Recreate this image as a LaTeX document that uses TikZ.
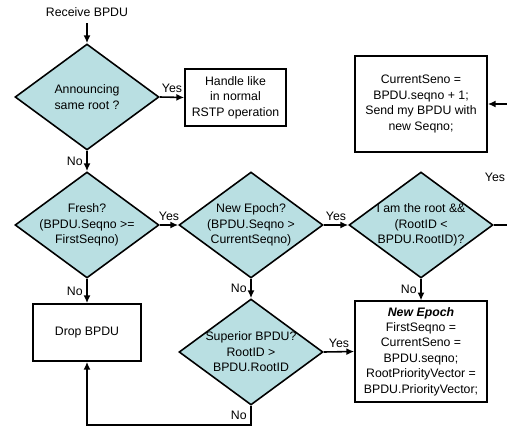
\documentclass[tikz,border=0pt]{standalone}
\usepackage{fontspec}
\setmainfont{Liberation Sans}
\usetikzlibrary{shapes.geometric,arrows.meta}
\definecolor{decfill}{RGB}{185,223,226}
\newcommand{\bpdutext}{\fontsize{7}{8.8}\selectfont}

\begin{document}
\begin{tikzpicture}[x=0.02cm, y=-0.02cm, font=\bpdutext,
    line width=0.9pt,
    decision/.style={diamond, draw, fill=decfill, inner sep=0pt,
        minimum width=2.88cm, minimum height=2.12cm},
    dtext/.style={align=center, font=\bpdutext},
    action/.style={rectangle, draw, fill=white, align=center},
    arr/.style={-{Latex[length=4.5pt,width=4pt]}},
    lbl/.style={inner sep=2pt}]
\useasboundingbox (0,0) rectangle (507,426);
\clip (0,0) rectangle (507,426);
% nodes

\node (recv) at (87,12) {Receive BPDU};

\node[decision, label={[dtext]center:Announcing\\same root ?}] (same) at (87,97) {};
\node[decision, label={[dtext]center:Fresh?\\(BPDU.Seqno >=\\FirstSeqno)}] (fresh) at (87,225) {};
\node[decision, label={[dtext]center:New Epoch?\\(BPDU.Seqno >\\CurrentSeqno)}] (epoch) at (251,225) {};
\node[decision, label={[dtext]center:I am the root \&\&\\(RootID <\\BPDU.RootID)?}] (iroot) at (421,225) {};
\node[decision, label={[dtext]center:Superior BPDU?\\RootID >\\BPDU.RootID}] (super) at (251,352) {};

\node[action, minimum width=2.02cm, minimum height=1.14cm] (handle) at (235.5,97.5) {Handle like\\in normal\\RSTP operation};
\node[action, minimum width=2.64cm, minimum height=1.92cm] (cur) at (421,104) {CurrentSeno =\\BPDU.seqno + 1;\\Send my BPDU with\\new Seqno;};
\node[action, minimum width=2.16cm, minimum height=1.14cm] (drop) at (87,332.5) {Drop BPDU};
\node[action, minimum width=2.64cm, minimum height=1.90cm] (newep) at (421,351.5) {\textbf{\textit{New Epoch}}\\FirstSeqno =\\CurrentSeno =\\BPDU.seqno;\\RootPriorityVector =\\BPDU.PriorityVector;};

\coordinate (rturn) at (515,225);
\coordinate (bturn) at (251,425);

% connectors
\draw[arr] (recv) -- (same.north);
\draw[arr] (same.east) -- node[lbl, above] {Yes} (handle.west);
\draw[arr] (same.south) -- node[lbl, left] {No} (fresh.north);
\draw[arr] (fresh.east) -- node[lbl, above] {Yes} (epoch.west);
\draw[arr] (fresh.south) -- node[lbl, left] {No} (drop.north);
\draw[arr] (epoch.east) -- node[lbl, above] {Yes} (iroot.west);
\draw[arr] (epoch.south) -- node[lbl, left] {No} (super.north);
\draw[arr] (iroot.south) -- node[lbl, left] {No} (newep.north);
\draw[arr] (super.east) -- node[lbl, above] {Yes} (newep.west);
\draw[arr] (iroot.east) -- (rturn) |- (cur.east);
\node (yesr) at (495,177) {Yes};
\draw[arr] (super.south) -- node[lbl, left] {No} (bturn) -| (drop.south);
\end{tikzpicture}
\end{document}
